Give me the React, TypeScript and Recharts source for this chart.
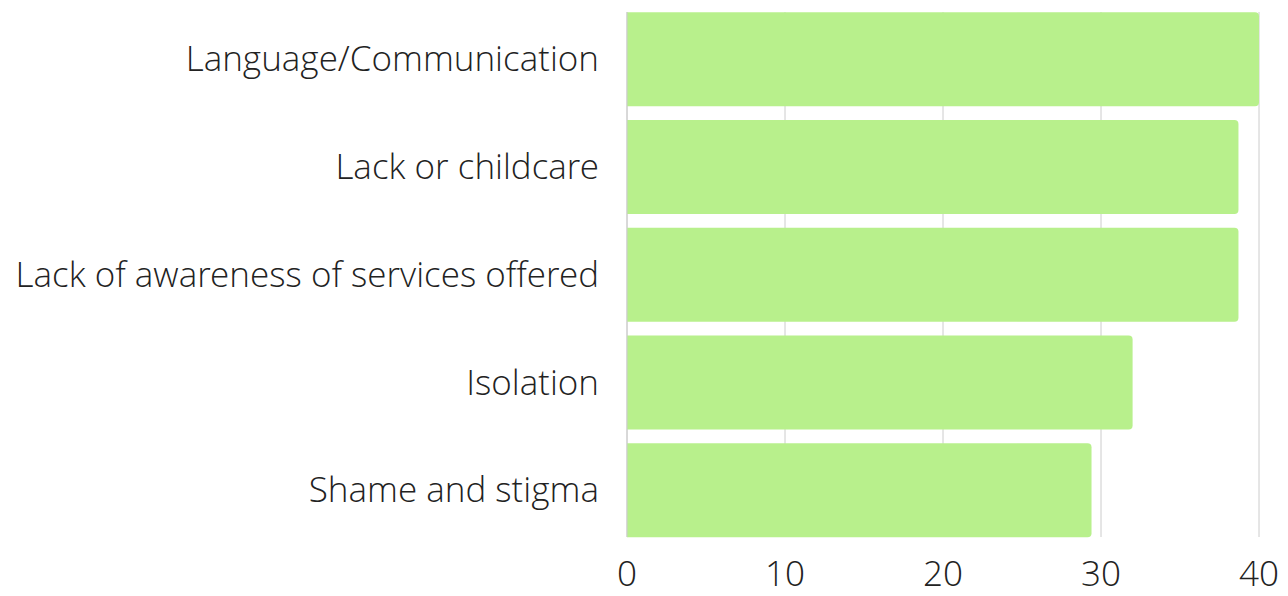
import { BarChart, Bar, XAxis, YAxis, CartesianGrid } from "recharts";

const categories = [
  "Language/Communication",
  "Lack or childcare",
  "Lack of awareness of services offered",
  "Isolation",
  "Shame and stigma",
];
const values = [40, 38.7, 38.7, 32, 29.4];
const xTicks = [0, 10, 20, 30, 40];

const data = categories.map((name, i) => ({ name, value: values[i] }));

const font = "'Open Sans Light', 'Open Sans', sans-serif";

export default function App() {
  return (
    <BarChart
      width={1280}
      height={588}
      data={data}
      layout="vertical"
      margin={{ top: 4, right: 29, bottom: 0, left: 0 }}
    >
      <CartesianGrid horizontal={false} stroke="#cccccc" />
      <XAxis
        type="number"
        domain={[0, 40]}
        ticks={xTicks}
        axisLine={false}
        tickLine={false}
        tickSize={0}
        tickMargin={24}
        height={59}
        tick={{ fontSize: 35, fontFamily: font, fontWeight: 300, fill: "#222222" }}
      />
      <YAxis
        type="category"
        dataKey="name"
        width={619}
        padding={{ top: -6.875, bottom: -6.875 }}
        axisLine={{ stroke: "#cccccc" }}
        tickLine={false}
        tickSize={0}
        tickMargin={28}
        tick={{ fontSize: 35, fontFamily: font, fontWeight: 300, fill: "#222222" }}
      />
      <Bar
        dataKey="value"
        fill="#b8f08c"
        barSize={94}
        radius={[0, 4, 4, 0]}
        isAnimationActive={false}
      />
    </BarChart>
  );
}
